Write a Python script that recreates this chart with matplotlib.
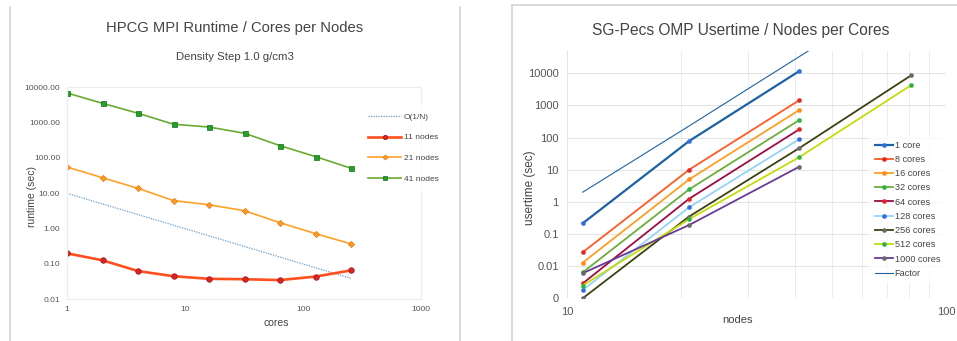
import matplotlib
matplotlib.use("Agg")
import matplotlib.pyplot as plt
from matplotlib.lines import Line2D
from matplotlib.ticker import FixedLocator, FixedFormatter, LogLocator, NullFormatter

plt.rcParams["font.family"] = ["Liberation Sans", "DejaVu Sans"]

# ---- HPCG MPI runtime (left panel) ----
cores = [1, 2, 4, 8, 16, 32, 64, 128, 256]
o_1_over_n = [10.0, 5.0, 2.5, 1.25, 0.625, 0.3125, 0.156, 0.078, 0.039]
rt_11_nodes = [0.20, 0.127, 0.063, 0.045, 0.038, 0.037, 0.035, 0.044, 0.066]
rt_21_nodes = [55.5, 27.6, 13.8, 6.2, 4.75, 3.2, 1.47, 0.72, 0.37]
rt_41_nodes = [6900, 3520, 1840, 900, 750, 500, 222, 109, 51]
left_yticks = [0.01, 0.1, 1, 10, 100, 1000, 10000]
left_yticklabels = ["0.01", "0.10", "1.00", "10.00", "100.00", "1000.00", "10000.00"]
left_xticks = [1, 10, 100, 1000]
left_xticklabels = ["1", "10", "100", "1000"]

# ---- SG-Pecs OMP usertime (right panel) ----
nodes3 = [11, 21, 41]
nodes4 = [11, 21, 41, 81]
ut_1 = [0.215, 78, 11700]
ut_8 = [0.027, 10.0, 1450]
ut_16 = [0.0128, 5.0, 720]
ut_32 = [0.0064, 2.45, 350]
ut_64 = [0.0029, 1.25, 180]
ut_128 = [0.0018, 0.68, 89]
ut_256 = [0.001, 0.35, 47, 8700]
ut_512 = [0.0025, 0.29, 24.5, 4300]
ut_1000 = [0.006, 0.19, 12.4]
factor = [2.0, 230, 33000, 5.0e6]
right_yticks = [0.001, 0.01, 0.1, 1, 10, 100, 1000, 10000]
right_yticklabels = ["0", "0.01", "0.1", "1", "10", "100", "1000", "10000"]
right_xticks = [10, 100]
right_xticklabels = ["10", "100"]

W, H = 957, 341
fig = plt.figure(figsize=(W / 100, H / 100), dpi=100)
fig.patch.set_facecolor("white")

def fx(px):
    return px / W

def fy(py):
    return 1 - py / H

frame_col = "#d4d4d4"
text_col = "#444444"
tick_col = "#555555"

# panel frames
fig.add_artist(Line2D([fx(10), fx(10)], [fy(7), 0], color=frame_col, lw=1.2))
fig.add_artist(Line2D([fx(460), fx(460)], [fy(7), 0], color=frame_col, lw=1.2))
fig.add_artist(Line2D([fx(512), fx(512)], [fy(5), 0], color=frame_col, lw=1.2))
fig.add_artist(Line2D([fx(512), 1], [fy(5), fy(5)], color=frame_col, lw=1.2))

# ---------------- left panel ----------------
axL = fig.add_axes([fx(67), fy(299.3), fx(421 - 67), (299.3 - 87.3) / H])
axL.set_xscale("log")
axL.set_yscale("log")
axL.set_xlim(1, 1000)
axL.set_ylim(0.01, 10000)

axL.plot(cores, o_1_over_n, color="#6a9fd0", lw=0.9, ls=(0, (1, 1)), label="O(1/N)")
axL.plot(cores, rt_11_nodes, color="#ff4f1e", lw=1.9, marker="o", ms=4.0,
         mfc="#d92525", mec="#a01515", mew=0.5, label="11 nodes")
axL.plot(cores, rt_21_nodes, color="#ffa126", lw=1.2, marker="D", ms=3.2,
         mfc="#ff9a2a", mec="#e07a10", mew=0.5, label="21 nodes")
axL.plot(cores, rt_41_nodes, color="#6aaa32", lw=1.2, marker="s", ms=3.6,
         mfc="#22a02a", mec="#127018", mew=0.5, label="41 nodes")

axL.xaxis.set_major_locator(FixedLocator(left_xticks))
axL.xaxis.set_major_formatter(FixedFormatter(left_xticklabels))
axL.xaxis.set_minor_locator(FixedLocator([]))
axL.yaxis.set_major_locator(FixedLocator(left_yticks))
axL.yaxis.set_major_formatter(FixedFormatter(left_yticklabels))
axL.yaxis.set_minor_locator(FixedLocator([]))
axL.tick_params(length=0, labelsize=6, colors=tick_col, pad=5)
for s in axL.spines.values():
    s.set_color("#ececec")
    s.set_linewidth(0.8)
axL.set_xlabel("cores", fontsize=7.5, color=text_col, va="center")
axL.set_ylabel("runtime (sec)", fontsize=7.5, color=text_col, va="center")
axL.xaxis.set_label_coords((276 - 67) / 354, (299.3 - 323) / 212)
axL.yaxis.set_label_coords((32 - 67) / 354, (299.3 - 196) / 212)

legL = axL.legend(loc="center left", bbox_to_anchor=(0.827, 0.714), frameon=True,
                  fontsize=6, handlelength=4.0, handletextpad=0.25, labelspacing=1.55,
                  borderpad=1.0, borderaxespad=0, fancybox=False, markerscale=0.8)
legL.get_frame().set_facecolor("white")
legL.get_frame().set_edgecolor("none")
for t in legL.get_texts():
    t.set_color(text_col)

fig.text(fx(234.5), fy(28), "HPCG MPI Runtime / Cores per Nodes", ha="center", va="center",
         fontsize=10.6, color=text_col)
fig.text(fx(235), fy(57), "Density Step 1.0 g/cm3", ha="center", va="center",
         fontsize=8.2, color=text_col)

# ---------------- right panel ----------------
axR = fig.add_axes([fx(567), fy(298.3), fx(946 - 567), (298.3 - 51) / H])
axR.set_xscale("log")
axR.set_yscale("log")
axR.set_xlim(10, 100)
axR.set_ylim(0.001, 49400)
axR.set_axisbelow(True)
axR.grid(True, which="major", color="#e4e4e4", lw=0.8)
axR.xaxis.set_minor_locator(LogLocator(base=10, subs=range(2, 10)))
axR.xaxis.set_minor_formatter(NullFormatter())
axR.grid(True, which="minor", axis="x", color="#ececec", lw=0.7)

series = [
    (nodes3, ut_1, "1 core", "#1c62a4", 1.6, "#2f6fe0"),
    (nodes3, ut_8, "8 cores", "#ff5a26", 1.3, "#e02828"),
    (nodes3, ut_16, "16 cores", "#ff9e24", 1.3, "#ff8c1a"),
    (nodes3, ut_32, "32 cores", "#6cae3c", 1.3, "#2cb443"),
    (nodes3, ut_64, "64 cores", "#9c0d45", 1.3, "#e02828"),
    (nodes3, ut_128, "128 cores", "#96d2f8", 1.3, "#2f6fe0"),
    (nodes4, ut_256, "256 cores", "#3c4212", 1.3, "#6a6a6a"),
    (nodes4, ut_512, "512 cores", "#c6dc0a", 1.3, "#2cb443"),
    (nodes3, ut_1000, "1000 cores", "#6b3b94", 1.3, "#6a6a6a"),
]
for xs, ys, lab, col, lw, mcol in series:
    axR.plot(xs, ys, color=col, lw=lw, marker="o", ms=3.0, mfc=mcol, mec=mcol,
             mew=0.3, label=lab)
axR.plot(nodes4, factor, color="#1c62a4", lw=0.8, label="Factor")

axR.xaxis.set_major_locator(FixedLocator(right_xticks))
axR.xaxis.set_major_formatter(FixedFormatter(right_xticklabels))
axR.yaxis.set_major_locator(FixedLocator(right_yticks))
axR.yaxis.set_major_formatter(FixedFormatter(right_yticklabels))
axR.yaxis.set_minor_locator(FixedLocator([]))
axR.tick_params(which="both", length=0, labelsize=8, colors=tick_col, pad=6)
for s in axR.spines.values():
    s.set_visible(False)
axR.set_xlabel("nodes", fontsize=8, color=text_col, va="center")
axR.set_ylabel("usertime (sec)", fontsize=8.5, color=text_col, va="center")
axR.xaxis.set_label_coords((738 - 567) / 379, (298.3 - 320) / 247.3)
axR.yaxis.set_label_coords((530 - 567) / 379, (298.3 - 188) / 247.3)

legR = axR.legend(loc="center left", bbox_to_anchor=(0.798, 0.36), frameon=True,
                  fontsize=6.6, handlelength=2.0, handletextpad=0.15, labelspacing=0.57,
                  borderpad=0.6, borderaxespad=0, fancybox=False)
legR.get_frame().set_facecolor("white")
legR.get_frame().set_edgecolor("none")
for t in legR.get_texts():
    t.set_color(text_col)

fig.text(fx(740.5), fy(30), "SG-Pecs OMP Usertime / Nodes per Cores", ha="center", va="center",
         fontsize=11.2, color=text_col)

fig.savefig("out.png", dpi=100, facecolor="white")
